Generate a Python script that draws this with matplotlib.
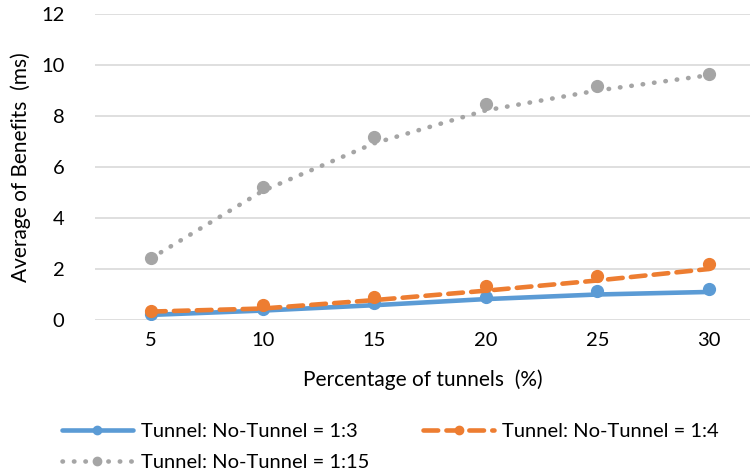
import matplotlib.pyplot as plt
from matplotlib.lines import Line2D

plt.rcParams['font.family'] = ['Lato', 'DejaVu Sans']

# percentage of tunnels on the x axis
tunnel_pct = [5, 10, 15, 20, 25, 30]
x_labels = ['5', '10', '15', '20', '25', '30']

# averaged benefit (ms) per ratio: marker values and connecting line values
points_1_3 = [0.25, 0.42, 0.68, 0.90, 1.15, 1.22]
line_1_3 = [0.20, 0.37, 0.58, 0.82, 1.00, 1.10]
points_1_4 = [0.37, 0.59, 0.92, 1.35, 1.73, 2.20]
line_1_4 = [0.33, 0.45, 0.78, 1.15, 1.55, 2.00]
points_1_15 = [2.42, 5.23, 7.16, 8.47, 9.19, 9.63]
line_1_15 = [2.42, 5.06, 6.93, 8.22, 9.00, 9.60]

labels = ['Tunnel: No-Tunnel = 1:3', 'Tunnel: No-Tunnel = 1:4',
          'Tunnel: No-Tunnel = 1:15']
colors = ['#5B9BD5', '#ED7D31', '#A5A5A5']

fig = plt.figure(figsize=(7.56, 4.73), dpi=100)
ax = fig.add_axes([95 / 756, 1 - 320 / 473, 655 / 756, 306 / 473])

lw = 3.3
ms = 8.5
dotted = (0, (0.1, 2.4))
dashed = (0, (3.2, 1.8))
ax.plot(tunnel_pct, line_1_15, color=colors[2], lw=lw, linestyle=dotted,
        dash_capstyle='round', zorder=3)
ax.plot(tunnel_pct, points_1_15, 'o', color=colors[2], ms=ms, zorder=4)
ax.plot(tunnel_pct, line_1_3, color=colors[0], lw=lw, solid_capstyle='round',
        zorder=3)
ax.plot(tunnel_pct, points_1_3, 'o', color=colors[0], ms=ms, zorder=4)
ax.plot(tunnel_pct, line_1_4, color=colors[1], lw=lw, linestyle=dashed,
        dash_capstyle='round', zorder=5)
ax.plot(tunnel_pct, points_1_4, 'o', color=colors[1], ms=ms, zorder=6)

ax.set_xlim(2.49, 31.84)
ax.set_ylim(0, 12)
ax.set_yticks(range(0, 13, 2))
ax.set_xticks(tunnel_pct)
ax.set_xticklabels(x_labels)
ax.grid(axis='y', color='#D9D9D9', lw=1.2)
ax.set_axisbelow(True)
for s in ax.spines.values():
    s.set_visible(False)
ax.tick_params(length=0, labelsize=14.5, colors='#000000')
ax.tick_params(axis='y', pad=22)
ax.tick_params(axis='x', pad=9)

ax.set_xlabel('Percentage of tunnels  (%)', fontsize=15, labelpad=14)
ax.set_ylabel('Average of Benefits  (ms)', fontsize=15, labelpad=7)

styles = ['-', dashed, dotted]
handles = [Line2D([], [], color=c, lw=lw, linestyle=st, marker='o', ms=6,
                  dash_capstyle='round', solid_capstyle='round')
           for c, st in zip(colors, styles)]
# legend fills column by column, so order entries to read row by row
order = [0, 2, 1]
fig.legend([handles[i] for i in order], [labels[i] for i in order],
           loc='upper left', bbox_to_anchor=(54 / 756, 1 - 415 / 473),
           ncol=2, frameon=False, fontsize=14.5,
           handlelength=3.5, handletextpad=0.4, columnspacing=2.7,
           labelspacing=0.68, borderaxespad=0)

fig.savefig('out.png', dpi=100)
